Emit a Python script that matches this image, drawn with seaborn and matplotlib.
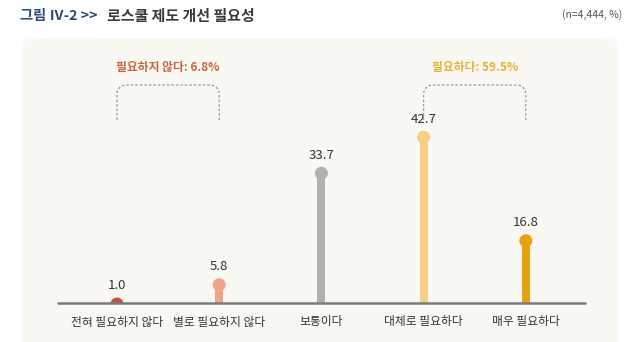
import numpy as np
import pandas as pd
import matplotlib
matplotlib.use("Agg")
import matplotlib.pyplot as plt
import matplotlib.transforms as mtransforms
from matplotlib.patches import FancyBboxPatch, PathPatch
from matplotlib.path import Path
import seaborn as sns

# Survey data
categories = ["전혀 필요하지 않다", "별로 필요하지 않다", "보통이다", "대체로 필요하다", "매우 필요하다"]
values = [1.0, 5.8, 33.7, 42.7, 16.8]
colors = ["#c1553a", "#eca588", "#b1b1b1", "#f6cf86", "#e9a00e"]

group_labels = ["필요하지 않다: 6.8%", "필요하다: 59.5%"]
group_colors = ["#c9633f", "#e9b03a"]
group_spans = [(0, 1), (3, 4)]

title_prefix = "그림 Ⅳ-2 >>"
title_main = "로스쿨 제도 개선 필요성"
note = "(n=4,444, %)"

sns.set_theme(style="white")
plt.rcParams["font.family"] = ["Noto Sans CJK KR", "DejaVu Sans"]

W, H, DPI = 640, 342, 100
fig = plt.figure(figsize=(W / DPI, H / DPI), dpi=DPI, facecolor="white")

# rounded background panel
panel = FancyBboxPatch((0.22, -0.2), 5.96, (H - 38) / DPI + 0.2,
                       boxstyle="round,pad=0,rounding_size=0.13",
                       transform=fig.dpi_scale_trans, facecolor="#faf8f3",
                       edgecolor="none", zorder=-5)
fig.patches.append(panel)

# axes placed in pixel space: baseline at y=303, plot from x=58 to 585
ax_left, ax_right, ax_top, ax_base = 58, 585, 38, 303
ax = fig.add_axes([ax_left / W, (H - ax_base) / H,
                   (ax_right - ax_left) / W, (ax_base - ax_top) / H])
ax.set_facecolor("none")
ax.set_zorder(1)

df = pd.DataFrame({"cat": categories, "val": values})
pal = dict(zip(categories, colors))

sns.barplot(data=df, x="cat", y="val", hue="cat", palette=pal, order=categories,
            hue_order=categories, width=0.078, legend=False, ax=ax,
            saturation=1, edgecolor="none", zorder=2)

marker_tr = mtransforms.offset_copy(ax.transData, fig=fig, x=0, y=-5, units="dots")
sns.scatterplot(data=df, x="cat", y="val", hue="cat", palette=pal,
                hue_order=categories, s=88, edgecolor="none", legend=False,
                ax=ax, zorder=3, transform=marker_tr, clip_on=True)

ax.set_xlim(-0.577, 4.579)
ax.set_ylim(0, (ax_base - ax_top) / 4.0)

for i, v in enumerate(values):
    ax.annotate(f"{v:.1f}", (i, v), xytext=(0, 9.5), textcoords="offset points",
                ha="center", va="center", fontsize=9.5, color="#333333", zorder=4)

ax.axhline(0, color="#7a7a7a", lw=1.8, zorder=5, clip_on=False)

for s in ax.spines.values():
    s.set_visible(False)
ax.set_yticks([])
ax.set_xlabel("")
ax.set_ylabel("")
ax.tick_params(axis="x", length=0, pad=9, labelsize=8.5, labelcolor="#333333")

# dashed brackets with rounded corners
fig.canvas.draw()
br_top, br_bot, lab_y = 54.5, 45.75, 58.8
r = 9.0
for (a, b), lab, col in zip(group_spans, group_labels, group_colors):
    (x0, y0) = ax.transData.transform((a, br_bot))
    (x1, y1) = ax.transData.transform((b, br_top))
    t = np.linspace(0, np.pi / 2, 12)
    pts = [(x0, y0), (x0, y1 - r)]
    pts += [(x0 + r - r * np.cos(tt), y1 - r + r * np.sin(tt)) for tt in t]
    pts += [(x1 - r, y1)]
    pts += [(x1 - r + r * np.sin(tt), y1 - r + r * np.cos(tt)) for tt in t]
    pts += [(x1, y0)]
    path = Path(pts)
    patch = PathPatch(path, transform=mtransforms.IdentityTransform(),
                      facecolor="none", edgecolor="#9a9a9a", lw=0.9,
                      linestyle=(0, (2.0, 1.6)), zorder=4)
    fig.patches.append(patch)
    ax.text((a + b) / 2, lab_y, lab, ha="center", va="center", fontsize=8.5,
            fontweight="bold", color=col, zorder=4)

# title and note
fig.text(20 / W, 1 - 16 / H, title_prefix, ha="left", va="center", fontsize=10.3,
         fontweight="bold", color="#2c4a70")
fig.text(107 / W, 1 - 16 / H, title_main, ha="left", va="center", fontsize=10.8,
         fontweight="bold", color="#3a3a3a")
fig.text(622 / W, 1 - 15 / H, note, ha="right", va="center", fontsize=7.5,
         color="#555555")

fig.savefig("out.png", dpi=DPI, facecolor="white")
